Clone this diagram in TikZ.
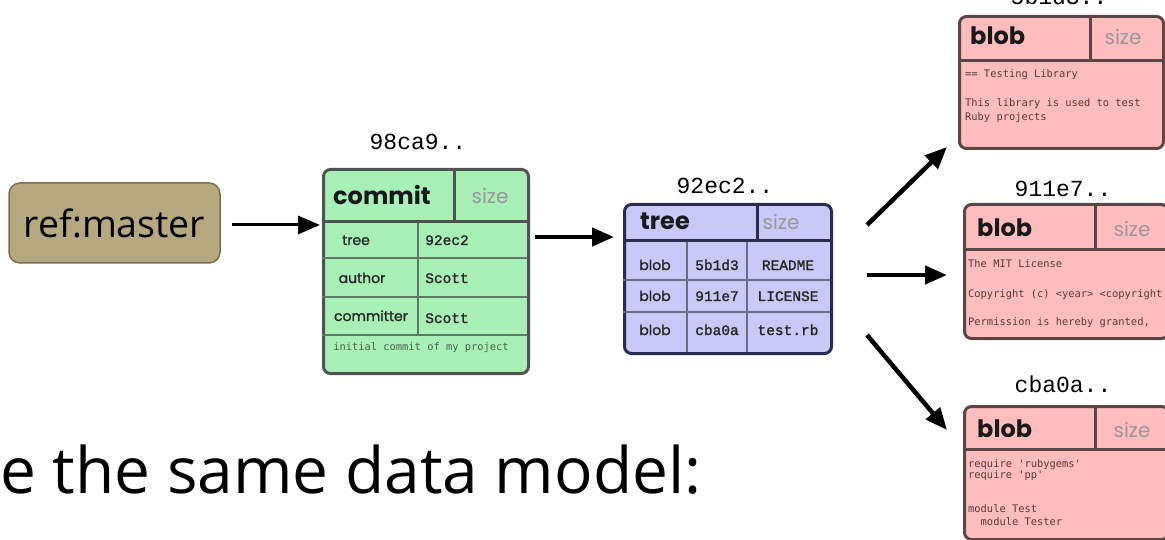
\documentclass[tikz,border=0pt]{standalone}
\usepackage{fontspec}
\setmainfont{Open Sans}
\newfontfamily\hdrfont{Poppins}
\newfontfamily\cellfont{Poppins}[FakeBold=1.2]
\newfontfamily\hashfont{Liberation Mono}
\newfontfamily\valfont{Liberation Mono}[FakeBold=1.5]
\newfontfamily\codefont{DejaVu Sans Mono}
\usetikzlibrary{arrows.meta}
\definecolor{commitfill}{HTML}{A9F0B6}
\definecolor{commitline}{HTML}{4E5450}
\definecolor{commitgrid}{HTML}{5E7A64}
\definecolor{treefill}{HTML}{C9C8F6}
\definecolor{treeline}{HTML}{2C2C50}
\definecolor{treegrid}{HTML}{6A6A8A}
\definecolor{blobfill}{HTML}{FFBEBD}
\definecolor{blobline}{HTML}{5A4646}
\definecolor{reffill}{HTML}{B5A982}
\definecolor{refline}{HTML}{7B6E4F}
\definecolor{sizegray}{HTML}{999999}
\definecolor{codebrown}{HTML}{5A3838}
\tikzset{
  box/.style={draw, line width=3pt, rounded corners=7pt, anchor=north west, inner sep=0pt},
  commitbox/.style={box, fill=commitfill, draw=commitline},
  treebox/.style={box, fill=treefill, draw=treeline},
  blobbox/.style={box, fill=blobfill, draw=blobline},
  refbox/.style={draw=refline, fill=reffill, line width=1.5pt, rounded corners=11pt,
    minimum width=211pt, minimum height=80pt, inner sep=0pt,
    font=\fontsize{37.5}{37.5}\selectfont},
  hash/.style={anchor=base, inner sep=0pt, font=\hashfont\fontsize{23}{23}\selectfont},
  hdr/.style={anchor=base west, inner sep=0pt, font=\hdrfont\bfseries\fontsize{24}{24}\selectfont, text=black!90},
  sizelbl/.style={anchor=base, inner sep=0pt, font=\hdrfont\fontsize{20}{20}\selectfont, text=sizegray},
  cell/.style={anchor=base, inner sep=0pt, font=\cellfont\fontsize{14}{14}\selectfont, text=black!85},
  val/.style={anchor=base, inner sep=0pt, font=\valfont\fontsize{14.5}{14.5}\selectfont, text=black!85},
  code/.style={anchor=base west, inner sep=0pt, font=\codefont\fontsize{10.4}{10.4}\selectfont, text=codebrown},
  thick rule/.style={line width=3pt},
  thin rule/.style={line width=1.5pt},
  arr/.style={-{Triangle[length=22pt,width=18pt]}, line width=4.5pt},
}
\begin{document}
\begin{tikzpicture}[x=1pt,y=-1pt]
\useasboundingbox (0,0) rectangle (1165,540);

% ---------- ref ----------
\node[refbox] (ref) at (114.5,223) {ref:master\hspace{14pt}};

% ---------- commit ----------
\node[hash] (commithash) at (418,150) {98ca9..};
\node[commitbox, minimum width=205pt, minimum height=204pt] (commit) at (322,168) {};
\draw[commitgrid, thin rule] (322,258) -- (527,258) (322,297) -- (527,297) (322,335) -- (527,335);
\draw[commitgrid, thin rule] (418,222) -- (418,335);
\draw[commitline, thick rule] (322,222) -- (527,222) (454,168) -- (454,222);
\node[hdr] (commithdr) at (333,205) {commit};
\node[sizelbl] (commitsize) at (490,204) {size};
\node[cell] (ctree) at (356,245) {tree};
\node[val] (ctreev) at (447,245) {92ec2};
\node[cell] (cauthor) at (362,283) {author};
\node[val] (cauthorv) at (447,283) {Scott};
\node[cell] (ccommitter) at (371,321) {committer};
\node[val] (ccommitterv) at (447,323) {Scott};
\node[anchor=base, inner sep=0pt, font=\codefont\fontsize{10.4}{10.4}\selectfont, text=commitgrid!80!black] (cmsg) at (421,350) {initial commit of my project};

% ---------- tree ----------
\node[hash] (treehash) at (725,194) {92ec2..};
\node[treebox, minimum width=207pt, minimum height=149pt] (tree) at (623,203) {};
\draw[treegrid, thin rule] (623,280) -- (830,280) (623,312) -- (830,312);
\draw[treegrid, thin rule] (687,241) -- (687,352) (747,241) -- (747,352);
\draw[treeline, thick rule] (623,241) -- (830,241) (757,203) -- (757,241);
\node[hdr] (treehdr) at (640,230) {tree};
\node[sizelbl] (treesize) at (781,230) {size};
\node[cell] (t1a) at (655,270) {blob};
\node[val] (t1b) at (717,270) {5b1d3};
\node[val] (t1c) at (788,270) {README};
\node[cell] (t2a) at (655,301) {blob};
\node[val] (t2b) at (717,301) {911e7};
\node[val] (t2c) at (788,301) {LICENSE};
\node[cell] (t3a) at (655,335) {blob};
\node[val] (t3b) at (717,335) {cba0a};
\node[val] (t3c) at (788,335) {test.rb};

% ---------- blob 1 ----------
\node[hash] (b1hash) at (1059,5) {5b1d3..};
\node[blobbox, minimum width=204pt, minimum height=132pt] (blobA) at (958,15) {};
\draw[blobline, thick rule] (958,61) -- (1162,61) (1090,15) -- (1090,61);
\node[hdr] (b1hdr) at (970,45) {blob};
\node[sizelbl] (b1size) at (1123,45) {size};
\node[code] (b1l1) at (965,78) {== Testing Library};
\node[code] (b1l2) at (965,107) {This library is used to test};
\node[code] (b1l3) at (965,121) {Ruby projects};

% ---------- blob 2 ----------
\node[hash] (b2hash) at (1063,197) {911e7..};
\node[blobbox, minimum width=204pt, minimum height=134pt] (blobB) at (963,203) {};
\draw[blobline, thick rule] (963,250) -- (1167,250) (1095,203) -- (1095,250);
\node[hdr] (b2hdr) at (977,237) {blob};
\node[sizelbl] (b2size) at (1132,237) {size};
\node[code] (b2l1) at (968,268) {The MIT License};
\node[code] (b2l2) at (968,298) {Copyright (c) <year> <copyright};
\node[code] (b2l3) at (968,325) {Permission is hereby granted,};

% ---------- blob 3 ----------
\node[hash] (b3hash) at (1063,392) {cba0a..};
\node[blobbox, minimum width=204pt, minimum height=133pt] (blobC) at (963,405) {};
\draw[blobline, thick rule] (963,449) -- (1167,449) (1095,405) -- (1095,449);
\node[hdr] (b3hdr) at (977,437) {blob};
\node[sizelbl] (b3size) at (1132,437) {size};
\node[code] (b3l1) at (968,467) {require 'rubygems'};
\node[code] (b3l2) at (968,478) {require 'pp'};
\node[code] (b3l3) at (968,512) {module Test};
\node[code] (b3l4) at (968,525) {\ \ module Tester};

% ---------- caption ----------
\node[anchor=base west, inner sep=0pt, font=\fontsize{64}{64}\selectfont] (caption) at (0,493) {e the same data model:};

% ---------- arrows ----------
\coordinate (rs) at (232,225);
\coordinate (re) at (320,225);
\draw[-{Triangle[length=22pt,width=18pt]}, line width=3pt] (rs) -- (re);
\coordinate (cs) at (535,237);
\coordinate (ce) at (614,237);
\draw[arr] (cs) -- (ce);
\coordinate (t1s) at (867,225);
\coordinate (t1e) at (947,147);
\coordinate (t2s) at (867,275);
\coordinate (t2e) at (947,275);
\coordinate (t3s) at (867,335);
\coordinate (t3e) at (947,430);
\draw[arr] (t1s) -- (t1e);
\draw[arr] (t2s) -- (t2e);
\draw[arr] (t3s) -- (t3e);
\end{tikzpicture}
\end{document}
